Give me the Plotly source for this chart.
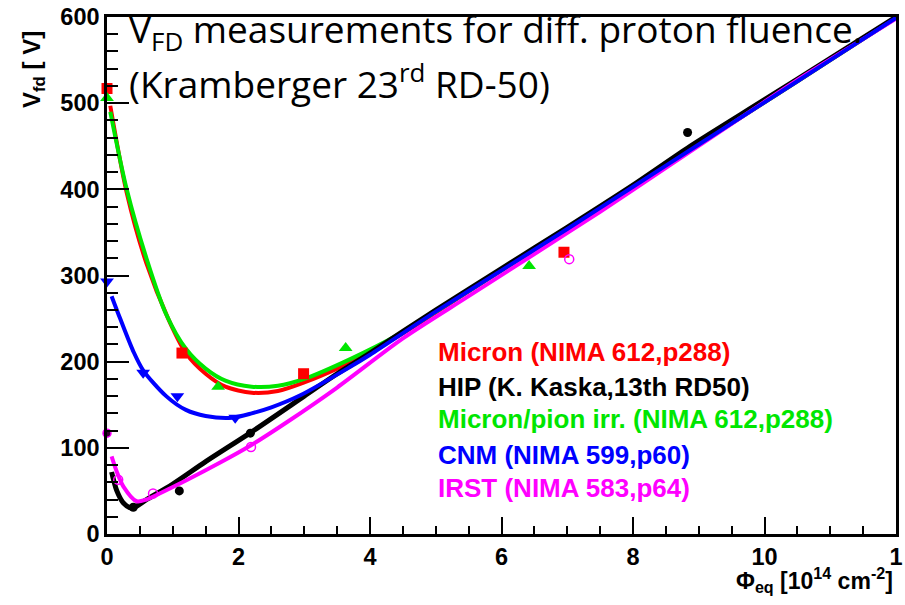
import plotly.graph_objects as go

# ---------------- data ----------------
# Measured points
micron_x = [0.0, 1.14, 2.99, 6.95]
micron_y = [517, 210, 186, 327]
hip_x = [0.4, 1.1, 2.18, 8.83]
hip_y = [31, 50, 117, 466]
pion_x = [0.0, 1.69, 3.63, 6.42]
pion_y = [506, 171, 216, 311]
cnm_x = [0.0, 0.55, 1.07, 1.95]
cnm_y = [293, 187, 160, 135]
irst_x = [0.17, 0.7, 2.19, 7.03]
irst_y = [63, 47, 101, 319]
irst0_x = [0.0]
irst0_y = [117]

# Fitted curves
micron_fit_x = [0.05, 0.3, 0.6, 0.93, 1.2, 1.5, 1.8, 2.2, 2.6, 3.0, 3.5, 4.0, 4.5, 5.0, 6.0, 7.0, 8.0, 9.0, 10.0, 11.0, 12.0]
micron_fit_y = [497, 396, 314, 250, 210, 186, 171, 164, 166, 176, 192, 211, 233, 257, 306, 354, 403, 452, 501, 550, 599]
pion_fit_x = [0.05, 0.3, 0.6, 0.9, 1.2, 1.5, 1.8, 2.2, 2.6, 3.0, 3.7, 4.4, 5.0, 6.0, 7.0, 8.0, 9.0, 10.0, 11.0, 12.0]
pion_fit_y = [490, 400, 320, 255, 215, 192, 178, 171, 172, 180, 203, 230, 258, 306, 354, 403, 452, 501, 550, 599]
hip_fit_x = [0.07, 0.15, 0.25, 0.38, 0.6, 1.0, 1.5, 2.19, 3.0, 3.5, 4.0, 5.0, 6.0, 7.0, 8.0, 8.83, 10.0, 11.0, 12.0]
hip_fit_y = [72, 50, 36, 30, 40, 58, 84, 118, 160, 186, 210, 260, 308, 356, 405, 448, 504, 552, 600]
cnm_fit_x = [0.07, 0.2, 0.4, 0.55, 0.9, 1.2, 1.5, 1.9, 2.2, 2.5, 2.94, 3.7, 4.0, 5.0, 6.0, 7.0, 8.0, 9.0, 10.0, 11.0, 12.0]
cnm_fit_y = [276, 250, 212, 190, 160, 144, 137, 135, 140, 147, 161, 194, 208, 258, 306, 354, 403, 452, 501, 550, 599]
irst_fit_x = [0.07, 0.15, 0.25, 0.45, 0.6, 0.8, 1.2, 1.7, 2.19, 2.74, 3.5, 4.5, 5.5, 6.5, 7.5, 8.5, 9.5, 10.5, 11.3, 12.0]
irst_fit_y = [90, 72, 55, 38, 40, 47, 62, 82, 103, 130, 170, 227, 276, 325, 374, 425, 476, 527, 565, 598]

x_tickvals = [0, 2, 4, 6, 8, 10, 12]
x_ticktext = ["0", "2", "4", "6", "8", "10", "1"]

legend_labels = [
    "Micron (NIMA 612,p288)",
    "HIP (K. Kaska,13th RD50)",
    "Micron/pion irr. (NIMA 612,p288)",
    "CNM (NIMA 599,p60)",
    "IRST (NIMA 583,p64)",
]

RED, BLACK, GREEN, BLUE, MAGENTA = "#ff0000", "#000000", "#00e600", "#0000ff", "#ff00ff"
legend_colors = [RED, BLACK, GREEN, BLUE, MAGENTA]

# ---------------- layout geometry ----------------
W, H = 905, 605
L, R, T, B = 107, 9, 17, 71
PW, PH = W - L - R, H - T - B


def px(xp):
    return (xp - L) / PW


def py(yp):
    return (H - B - yp) / PH


fig = go.Figure()

def fit(x, y, c, w):
    fig.add_trace(go.Scatter(x=x, y=y, mode="lines", line=dict(color=c, width=w, shape="spline", smoothing=0.8),
                             hoverinfo="skip", showlegend=False))

fit(micron_fit_x, micron_fit_y, RED, 4)
fit(pion_fit_x, pion_fit_y, GREEN, 4)
fit(hip_fit_x, hip_fit_y, BLACK, 5)
fit(irst_fit_x, irst_fit_y, MAGENTA, 4)
fit(cnm_fit_x, cnm_fit_y, BLUE, 4)

def pts(x, y, sym, c, size, lc=None, lw=0):
    fig.add_trace(go.Scatter(x=x, y=y, mode="markers", cliponaxis=False,
                             marker=dict(symbol=sym, color=c, size=size,
                                         line=dict(color=lc or c, width=lw)),
                             showlegend=False))

pts(micron_x, micron_y, "square", RED, 11)
pts(pion_x, pion_y, "triangle-up", GREEN, 12)
pts(cnm_x, cnm_y, "triangle-down", BLUE, 12)
pts(hip_x, hip_y, "circle", BLACK, 9)
pts(irst_x, irst_y, "circle-open", MAGENTA, 9, MAGENTA, 1.5)
pts(irst0_x, irst0_y, "circle", "#3a0035", 8, MAGENTA, 1.5)

tickfont = dict(family="Liberation Sans, Arial", size=23.5, color="black", weight="bold")

fig.update_xaxes(range=[0, 12], tickvals=x_tickvals, ticktext=x_ticktext, ticks="inside", ticklen=17,
                 tickwidth=2, tickcolor="black", showline=True, linewidth=2.5, linecolor="black",
                 mirror=True, showgrid=False, zeroline=False, tickfont=tickfont,
                 ticklabeloverflow="allow", automargin=False,
                 minor=dict(ticks="inside", ticklen=8, dtick=0.5, tickwidth=1.5, tickcolor="black"))
fig.update_yaxes(range=[0, 600], dtick=100, ticks="inside", ticklen=22,
                 tickwidth=2, tickcolor="black", showline=True, linewidth=2.5, linecolor="black",
                 mirror=True, showgrid=False, zeroline=False, tickfont=tickfont, automargin=False,
                 minor=dict(ticks="inside", ticklen=11, dtick=20, tickwidth=1.5, tickcolor="black"))

ann = []
# Title text (two lines)
ann.append(dict(x=px(127), y=py(31), xref="paper", yref="paper", xanchor="left", yanchor="middle",
                text="V<sub>FD</sub> measurements for diff. proton fluence.", showarrow=False,
                font=dict(family="Open Sans", size=37, color="black")))
ann.append(dict(x=px(127), y=py(81), xref="paper", yref="paper", xanchor="left", yanchor="middle",
                text="(Kramberger 23<sup>rd</sup> RD-50)", showarrow=False,
                font=dict(family="Open Sans", size=37, color="black")))
# Legend texts
for lab, col, yc in zip(legend_labels, legend_colors, [352, 387, 419, 455, 488]):
    ann.append(dict(x=px(436), y=py(yc), xref="paper", yref="paper", xanchor="left", yanchor="middle",
                    text=lab, showarrow=False,
                    font=dict(family="Liberation Sans, Arial", size=26, color=col, weight="bold")))
# Axis titles
ann.append(dict(x=px(895), y=py(580), xref="paper", yref="paper", xanchor="right", yanchor="middle",
                text="\u03a6<sub>eq</sub> [10<sup>14</sup> cm<sup>-2</sup>]", showarrow=False,
                font=dict(family="Liberation Sans, Arial", size=23, color="black", weight="bold")))
ann.append(dict(x=px(34), y=py(70), xref="paper", yref="paper", xanchor="center", yanchor="middle",
                text="V<sub>fd</sub> [ V]", textangle=-90, showarrow=False,
                font=dict(family="Liberation Sans, Arial", size=24, color="black", weight="bold")))

fig.update_layout(width=W, height=H, margin=dict(l=L, r=R, t=T, b=B, autoexpand=False), paper_bgcolor="white",
                  plot_bgcolor="white", annotations=ann, showlegend=False)

fig.write_html("out.html")
